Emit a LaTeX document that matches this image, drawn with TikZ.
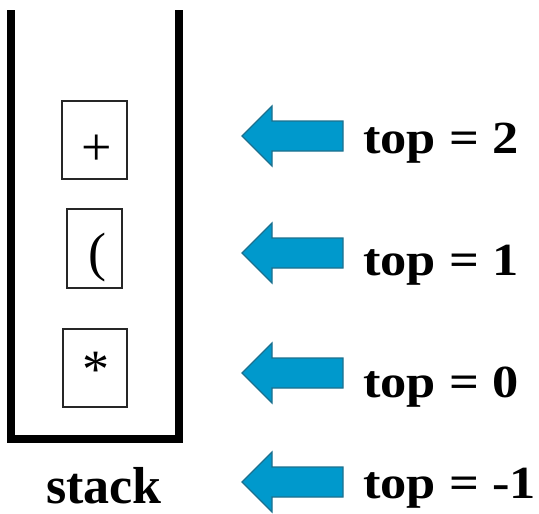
\documentclass[tikz,border=0pt]{standalone}
\usepackage{fontspec}
\setmainfont{Liberation Serif}
\definecolor{arrfill}{RGB}{0,153,204}
\definecolor{arrdraw}{RGB}{28,112,142}
\begin{document}
\begin{tikzpicture}[x=1pt,y=-1pt,
  wall/.style={line width=8pt,miter limit=10},
  cell/.style={draw=black!85,line width=1.4pt},
  sym/.style={anchor=base,inner sep=0pt,font=\fontsize{54}{60}\selectfont},
  lbl/.style={anchor=base west,inner sep=0pt,font=\fontsize{46}{52}\selectfont\bfseries},
  blockarrow/.style={fill=arrfill,draw=arrdraw,line width=1.2pt,line join=miter}]
\useasboundingbox (0,0) rectangle (539,514);
% stack walls
\draw[wall] (11,10) -- (11,439) -- (179,439) -- (179,10);
% cells
\draw[cell] (62,101) rectangle (127,179);
\draw[cell] (67,209) rectangle (122,288);
\draw[cell] (63,329) rectangle (127,407);
\node[sym] (plus) at (97,165) {+};
\node[sym] (paren) at (97,270) {(};
\node[sym] (star) at (96,387) {*};
\node[anchor=base,inner sep=0pt,font=\fontsize{52}{58}\selectfont\bfseries] (stack) at (104,503) {stack};
% arrows
\foreach \c/\n in {136/a2,253/a1,373/a0,482/am}{
  \draw[blockarrow] (242,\c) -- (272,\c-30) -- (272,\c-15) -- (343,\c-15)
     -- (343,\c+15) -- (272,\c+15) -- (272,\c+30) -- cycle;
}
\node[lbl] (t2) at (363,153) {\scalebox{1.14}[1]{top = 2}};
\node[lbl] (t1) at (363,275) {\scalebox{1.14}[1]{top = 1}};
\node[lbl] (t0) at (363,397) {\scalebox{1.14}[1]{top = 0}};
\node[lbl] (tm) at (363,498) {\scalebox{1.14}[1]{top = -1}};
\end{tikzpicture}
\end{document}
